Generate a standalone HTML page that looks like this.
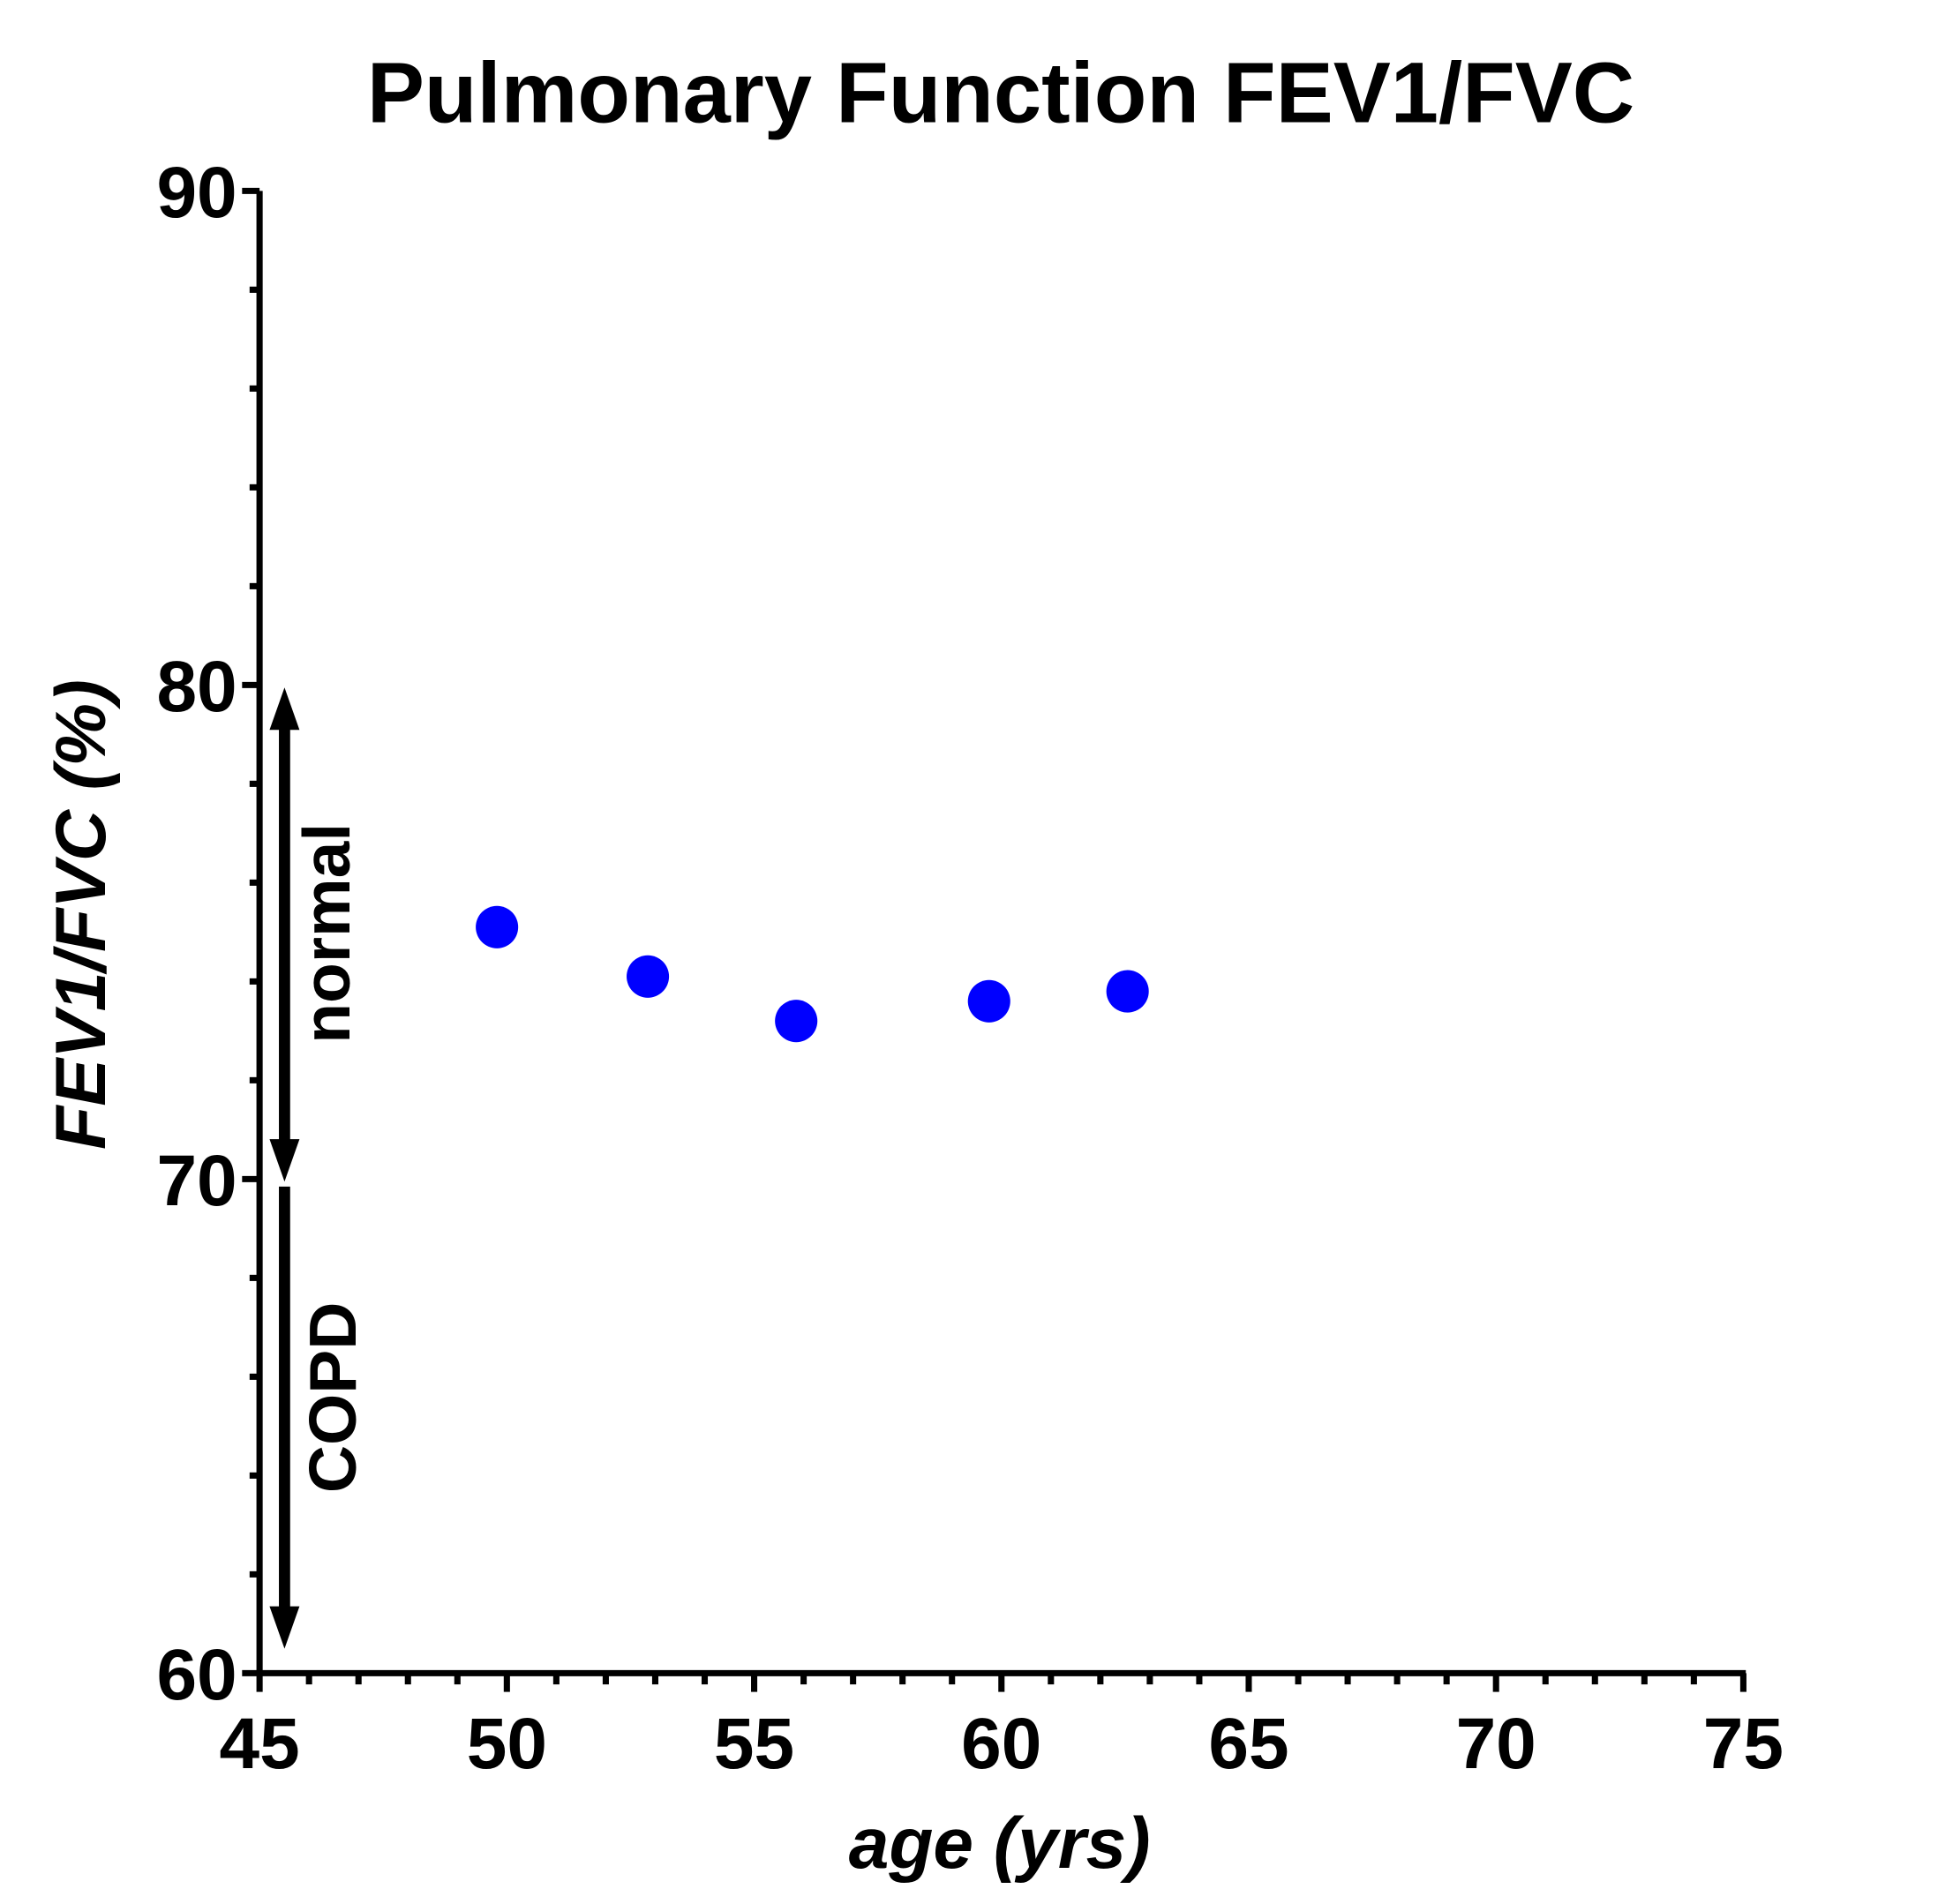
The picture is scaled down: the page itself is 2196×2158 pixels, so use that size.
<!DOCTYPE html>
<html><head><meta charset="utf-8"><style>
html,body{margin:0;padding:0;background:#fff}
svg{display:block}
text{font-family:"Liberation Sans",Arial,sans-serif;font-weight:bold;fill:#000}
</style></head><body>
<svg id="chart" width="2196" height="2158" viewBox="0 0 1553 1526" preserveAspectRatio="none" xmlns="http://www.w3.org/2000/svg">
<text x="802" y="98" font-size="69" text-anchor="middle">Pulmonary Function FEV1/FVC</text>
<g id="axes"></g>
<g id="marks"></g>
<text x="801" y="1497" font-size="58" font-style="italic" text-anchor="middle">age (yrs)</text>
<text transform="translate(84,733) rotate(-90)" font-size="57" font-style="italic" text-anchor="middle">FEV1/FVC (%)</text>
</svg>
<script>
const ages = [49.8, 52.85, 55.85, 59.75, 62.55];
const ratios = [75.1, 74.1, 73.2, 73.6, 73.8];
const xTicks = [45, 50, 55, 60, 65, 70, 75];
const yTicks = [60, 70, 80, 90];
const NS = 'http://www.w3.org/2000/svg';
const X0 = 208, X1 = 1397, Y0 = 1341, Y1 = 153;
function sx(v){ return X0 + (v - 45) / 30 * (X1 - X0); }
function sy(v){ return Y0 - (v - 60) / 30 * (Y0 - Y1); }
const axes = document.getElementById('axes');
const marks = document.getElementById('marks');
function mk(tag, attrs, parent){
  const e = document.createElementNS(NS, tag);
  for (const k in attrs) e.setAttribute(k, attrs[k]);
  parent.appendChild(e); return e;
}
let e;
e = mk('line', {x1:X0, y1:Y1, x2:X0, y2:Y0+2, stroke:'#000','stroke-width':5}, axes);


e = mk('line', {x1:X0-2, y1:Y0, x2:X1+2, y2:Y0, stroke:'#000','stroke-width':5}, axes);


for (let v = 60; v <= 90; v += 2) {
  const major = (v % 10 === 0);
  e = mk('line', {x1:X0 - (major ? 14 : 8), y1:sy(v), x2:X0, y2:sy(v), stroke:'#000','stroke-width':5}, axes);
  
  
}
for (let v = 45; v <= 75; v += 1) {
  const major = (v % 5 === 0);
  e = mk('line', {x1:sx(v), y1:Y0, x2:sx(v), y2:Y0 + (major ? 15 : 9), stroke:'#000','stroke-width':5}, axes);
  
  
}
yTicks.forEach(v => {
  e = mk('text', {x:X0 - 18, y:sy(v) + 21, 'font-size':58, 'text-anchor':'end'}, axes);
  e.textContent = v;
  
  
});
xTicks.forEach(v => {
  e = mk('text', {x:sx(v), y:Y0 + 76, 'font-size':58, 'text-anchor':'middle'}, axes);
  e.textContent = v;
  
  
});
const AX = 228;
function arrow(ya, yb, head1, name){
  const g = mk('g', {}, axes);
  
  
  mk('line', {x1:AX, y1:ya + (head1 ? 30 : 0), x2:AX, y2:yb - 30, stroke:'#000','stroke-width':9}, g);
  mk('polygon', {points:`${AX-12},${yb-34} ${AX+12},${yb-34} ${AX},${yb}`, fill:'#000'}, g);
  if (head1) mk('polygon', {points:`${AX-12},${ya+34} ${AX+12},${ya+34} ${AX},${ya}`, fill:'#000'}, g);
}
arrow(sy(80) + 2, sy(70) + 2, true, 'normal-range-arrow');
arrow(sy(70) + 6, sy(61) + 20, false, 'copd-range-arrow');
e = mk('text', {transform:`translate(280,748) rotate(-90)`, 'font-size':53, 'font-weight':'normal', 'text-anchor':'middle'}, axes);
e.textContent = 'normal';


e = mk('text', {transform:`translate(285,1120) rotate(-90)`, 'font-size':53, 'font-weight':'normal', 'text-anchor':'middle'}, axes);
e.textContent = 'COPD';


ages.forEach((a, i) => {
  e = mk('circle', {cx:sx(a), cy:sy(ratios[i]), r:17, fill:'#0000ff'}, marks);
  
  
});
</script>
</body></html>
